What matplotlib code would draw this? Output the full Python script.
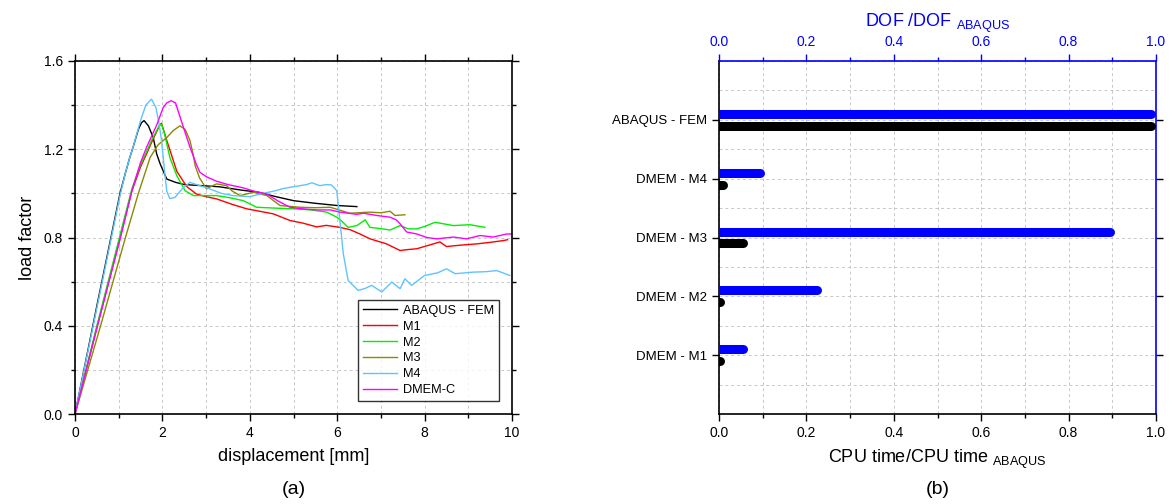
import matplotlib
matplotlib.use("Agg")
import matplotlib.pyplot as plt
from matplotlib.ticker import MultipleLocator

plt.rcParams['font.family'] = ['Liberation Sans', 'DejaVu Sans']
plt.rcParams['mathtext.fontset'] = 'custom'
plt.rcParams['mathtext.rm'] = 'Liberation Sans'
plt.rcParams['mathtext.default'] = 'regular'

# ---- (a) load-displacement curves ----
abaqus_x = [0, 0.5, 1.03, 1.15, 1.25, 1.33, 1.45, 1.52, 1.58, 1.68, 1.79, 1.87, 1.95, 2.1, 2.3, 2.5, 2.9, 3.3, 3.8, 4.2, 4.6, 5.0, 5.5, 6.0, 6.45]
abaqus_y = [0, 0.49, 1.0, 1.09, 1.16, 1.21, 1.29, 1.32, 1.33, 1.306, 1.253, 1.178, 1.133, 1.065, 1.05, 1.04, 1.035, 1.03, 1.015, 1.005, 0.985, 0.967, 0.955, 0.945, 0.94]

m1_x = [0, 0.5, 1.03, 1.3, 1.5, 1.64, 1.75, 1.87, 1.94, 1.98, 2.1, 2.33, 2.56, 2.78, 3.0, 3.24, 3.6, 3.93, 4.2, 4.54, 4.92, 5.22, 5.53, 5.75, 6.06, 6.3,
        6.52, 6.75, 7.13, 7.44, 7.6, 7.82, 8.2, 8.35, 8.5, 8.8, 9.19, 9.5, 9.8, 9.9]
m1_y = [0, 0.39, 0.80, 1.01, 1.12, 1.18, 1.23, 1.28, 1.31, 1.318, 1.24, 1.10, 1.03, 0.997, 0.985, 0.975, 0.95, 0.93, 0.92, 0.907, 0.877, 0.865,
        0.848, 0.855, 0.846, 0.835, 0.816, 0.794, 0.771, 0.741, 0.745, 0.749, 0.771, 0.78, 0.759, 0.765, 0.771, 0.778, 0.786, 0.79]

m2_x = [0, 0.5, 1.03, 1.3, 1.5, 1.64, 1.75, 1.87, 1.94, 1.98, 2.05, 2.17, 2.33, 2.52, 2.71, 3.0, 3.24, 3.55, 3.85, 4.16, 4.6, 5.0, 5.4, 5.76,
        5.99, 6.1, 6.25, 6.45, 6.64, 6.75, 7.0, 7.21, 7.44, 7.63, 7.82, 8.0, 8.24, 8.66, 9.04, 9.38]
m2_y = [0, 0.40, 0.81, 1.02, 1.13, 1.19, 1.24, 1.285, 1.31, 1.313, 1.27, 1.163, 1.08, 1.012, 0.99, 0.99, 0.99, 0.98, 0.967, 0.937, 0.933, 0.93,
        0.925, 0.915, 0.892, 0.875, 0.846, 0.854, 0.88, 0.846, 0.84, 0.834, 0.854, 0.839, 0.839, 0.85, 0.869, 0.854, 0.858, 0.846]

m3_x = [0, 0.6, 1.14, 1.45, 1.72, 1.9, 2.1, 2.25, 2.4, 2.52, 2.63, 2.7, 2.75, 2.85, 3.01, 3.1, 3.24, 3.47, 3.6, 3.78, 4.08, 4.39, 4.69, 5.15,
        5.5, 5.84, 6.29, 6.75, 7.0, 7.21, 7.32, 7.55]
m3_y = [0, 0.41, 0.79, 1.0, 1.163, 1.22, 1.253, 1.285, 1.306, 1.29, 1.24, 1.18, 1.125, 1.07, 1.02, 1.03, 1.043, 1.035, 1.01, 0.99, 1.005, 0.99,
        0.945, 0.937, 0.935, 0.937, 0.91, 0.915, 0.912, 0.919, 0.9, 0.903]

m4_x = [0, 0.5, 1.03, 1.15, 1.25, 1.33, 1.5, 1.62, 1.75, 1.85, 1.92, 1.98, 2.05, 2.1, 2.17, 2.29, 2.45, 2.63, 2.78, 3.09, 3.35, 3.62, 4.0, 4.3,
        4.55, 4.77, 5.0, 5.15, 5.3, 5.42, 5.6, 5.75, 5.87, 5.99, 6.06, 6.14, 6.25, 6.48, 6.65, 6.79, 7.02, 7.25, 7.44, 7.55, 7.7, 8.0, 8.3, 8.5,
        8.7, 9.11, 9.4, 9.65, 9.95]
m4_y = [0, 0.48, 0.99, 1.09, 1.16, 1.21, 1.33, 1.40, 1.427, 1.39, 1.32, 1.24, 1.1, 1.01, 0.976, 0.982, 1.02, 1.05, 1.04, 1.02, 1.0, 0.99, 0.985,
        1.0, 1.01, 1.022, 1.03, 1.035, 1.04, 1.048, 1.035, 1.04, 1.038, 1.012, 0.88, 0.726, 0.605, 0.56, 0.57, 0.583, 0.553, 0.598, 0.568, 0.613,
        0.583, 0.628, 0.64, 0.658, 0.636, 0.643, 0.645, 0.65, 0.628]

dmemc_x = [0, 0.5, 1.03, 1.3, 1.5, 1.64, 1.87, 2.02, 2.1, 2.2, 2.3, 2.48, 2.63, 2.78, 2.86, 3.01, 3.24, 3.5, 3.85, 4.1, 4.39, 4.65, 4.92, 5.2,
           5.53, 5.84, 6.06, 6.45, 6.6, 6.9, 7.21, 7.35, 7.44, 7.59, 7.82, 8.05, 8.28, 8.66, 8.96, 9.27, 9.57, 9.88, 10.0]
dmemc_y = [0, 0.39, 0.79, 1.01, 1.14, 1.21, 1.31, 1.39, 1.41, 1.42, 1.41, 1.30, 1.21, 1.13, 1.095, 1.075, 1.055, 1.04, 1.025, 1.01, 0.997,
           0.965, 0.937, 0.93, 0.925, 0.925, 0.915, 0.905, 0.91, 0.9, 0.892, 0.88, 0.862, 0.825, 0.816, 0.80, 0.794, 0.802, 0.794, 0.809,
           0.802, 0.816, 0.816]

# ---- (b) cost comparison ----
models = ["DMEM - M1", "DMEM - M2", "DMEM - M3", "DMEM - M4", "ABAQUS - FEM"]
dof_ratio = [0.065, 0.235, 0.905, 0.105, 1.0]
cpu_ratio = [0.008, 0.013, 0.065, 0.02, 1.0]

fig = plt.figure(figsize=(11.72, 5.04), dpi=100)
W, H = 1172, 504

def rect(x0, x1, y0, y1):
    return [x0 / W, 1 - y1 / H, (x1 - x0) / W, (y1 - y0) / H]

# left plot
ax = fig.add_axes(rect(75, 512, 61, 414))
series = [
    (abaqus_x, abaqus_y, "ABAQUS - FEM", "black"),
    (m1_x, m1_y, "M1", "#ff0000"),
    (m2_x, m2_y, "M2", "#00ee00"),
    (m3_x, m3_y, "M3", "#8a8a00"),
    (m4_x, m4_y, "M4", "#5ec4ff"),
    (dmemc_x, dmemc_y, "DMEM-C", "#ff00ff"),
]
for xs, ys, name, col in series:
    ax.plot(xs, ys, color=col, lw=1.0, label=name)

ax.set_xlim(0, 10)
ax.set_ylim(0, 1.6)
ax.xaxis.set_major_locator(MultipleLocator(2))
ax.xaxis.set_minor_locator(MultipleLocator(1))
ax.yaxis.set_major_locator(MultipleLocator(0.4))
ax.yaxis.set_minor_locator(MultipleLocator(0.2))
ax.set_yticks([0, 0.4, 0.8, 1.2, 1.6])
ax.set_yticklabels(["0.0", "0.4", "0.8", "1.2", "1.6"])
ax.tick_params(which='both', direction='out', top=True, right=True, labelsize=10, width=1)
ax.tick_params(which='major', length=5)
ax.tick_params(which='minor', length=3)
ax.grid(True, which='both', ls=(0, (3, 3)), color='#c8c8c8', lw=0.7)
for s in ax.spines.values():
    s.set_linewidth(1.2)
ax.set_xlabel("displacement [mm]", fontsize=13, labelpad=6)
ax.set_ylabel("load factor", fontsize=13, labelpad=6)
leg = ax.legend(loc='lower right', fontsize=9.2, frameon=True, fancybox=False, edgecolor='black',
                handlelength=2.7, borderpad=0.35, labelspacing=0.3, handletextpad=0.5,
                bbox_to_anchor=(0.985, 0.02))
leg.get_frame().set_linewidth(1.0)
ax.set_axisbelow(True)

# right plot
bx = fig.add_axes(rect(719, 1156, 61, 414))
pos = list(range(1, len(models) + 1))
bx.set_xlim(0, 1)
bx.set_ylim(0, 6)
lw_pt = 6.5
# shorten each bar by its round cap so the tip lands on the value
cap = (lw_pt / 2 * fig.dpi / 72) / (437 * fig.dpi / 100)
blue_y = [p + 0.1 for p in pos]
black_y = [p - 0.1 for p in pos]
for yv, v in zip(blue_y, dof_ratio):
    bx.plot([0, max(v - cap, 0.002)], [yv, yv], color='#0000ff', lw=lw_pt, solid_capstyle='round', zorder=3)
for yv, v in zip(black_y, cpu_ratio):
    bx.plot([0, max(v - cap, 0.002)], [yv, yv], color='black', lw=lw_pt, solid_capstyle='round', zorder=3)

bx.set_yticks(pos)
bx.set_yticklabels(models, fontsize=9.5)
bx.yaxis.set_minor_locator(MultipleLocator(0.5))
bx.xaxis.set_major_locator(MultipleLocator(0.2))
bx.xaxis.set_minor_locator(MultipleLocator(0.1))
bx.set_xticks([0, 0.2, 0.4, 0.6, 0.8, 1.0])
bx.set_xticklabels(["0.0", "0.2", "0.4", "0.6", "0.8", "1.0"])
bx.tick_params(axis='x', which='both', direction='out', labelsize=10, width=1)
bx.tick_params(axis='x', which='major', length=5)
bx.tick_params(axis='x', which='minor', length=3)
bx.tick_params(axis='y', which='major', direction='out', length=5, width=1, right=True, color='black')
bx.tick_params(axis='y', which='minor', length=0)
bx.grid(True, which='both', ls=(0, (3, 3)), color='#c8c8c8', lw=0.7)
bx.set_axisbelow(True)
bx.spines['left'].set_linewidth(1.2)
bx.spines['bottom'].set_linewidth(1.2)
bx.spines['top'].set_visible(False)
bx.spines['right'].set_color('#0000ff')
bx.spines['right'].set_linewidth(1.2)
for t in bx.yaxis.get_ticklines()[1::2]:
    t.set_color('#0000ff')
bx.set_xlabel("CPU time/CPU time $_{ABAQUS}$", fontsize=13, labelpad=6)

tx = bx.twiny()
tx.set_xlim(0, 1)
tx.xaxis.set_major_locator(MultipleLocator(0.2))
tx.xaxis.set_minor_locator(MultipleLocator(0.1))
tx.set_xticks([0, 0.2, 0.4, 0.6, 0.8, 1.0])
tx.set_xticklabels(["0.0", "0.2", "0.4", "0.6", "0.8", "1.0"])
tx.tick_params(axis='x', which='both', direction='out', colors='#0000ff', labelsize=10, width=1)
tx.tick_params(axis='x', which='major', length=5)
tx.tick_params(axis='x', which='minor', length=3)
tx.spines['top'].set_color('#0000ff')
tx.spines['top'].set_linewidth(1.2)
tx.spines['right'].set_visible(False)
tx.spines['left'].set_visible(False)
tx.spines['bottom'].set_visible(False)
tx.set_xlabel("DOF /DOF $_{ABAQUS}$", fontsize=13, color='#0000ff', labelpad=6)

fig.text((75 + 512) / 2 / W, 1 - 490 / H, "(a)", ha='center', va='center', fontsize=14)
fig.text((719 + 1156) / 2 / W, 1 - 490 / H, "(b)", ha='center', va='center', fontsize=14)

fig.savefig("out.png", dpi=100)
